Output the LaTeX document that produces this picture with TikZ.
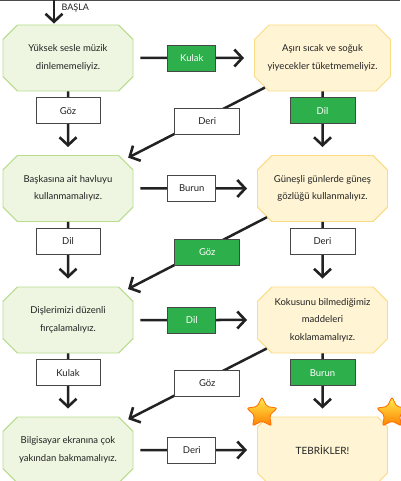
\documentclass[tikz,border=0pt]{standalone}
\usepackage{fontspec}
\setmainfont{Lato}
\usepackage{tikz}
\usetikzlibrary{arrows.meta,positioning,shapes.misc,shapes.geometric,calc}
\definecolor{ink}{HTML}{222222}
\definecolor{leaf}{HTML}{EEF6E1}
\definecolor{leafline}{HTML}{B7DC8C}
\definecolor{cream}{HTML}{FFF4D4}
\definecolor{creamline}{HTML}{FADB86}
\definecolor{tag}{HTML}{2DB04B}
\definecolor{tagline}{HTML}{474747}
\tikzset{
  rule/.style  ={chamfered rectangle,chamfered rectangle xsep=11pt,line width=0.9pt,
                 minimum width=130pt,minimum height=66pt,inner sep=2pt,align=center,
                 text=ink,font=\fontsize{9.5}{17.5}\selectfont},
  safe/.style  ={rule,fill=leaf,draw=leafline},
  warm/.style  ={rule,fill=cream,draw=creamline},
  tagbox/.style={draw=tagline,line width=0.7pt,fill=white,minimum height=26pt,
                 inner sep=2pt,text=ink,font=\fontsize{9.5}{11}\selectfont},
  gotag/.style ={tagbox,fill=tag,text=white},
  flow/.style  ={-{Straight Barb[length=8pt,width=17pt,line width=2.6pt]},
                 line width=2.5pt,draw=ink},
  prize/.style ={star,star points=5,star point ratio=2.0,minimum size=32pt,inner sep=0pt,
                 draw=orange!85!red,line width=0.8pt,rounded corners=2pt,
                 top color=yellow!80!orange!70!white,bottom color=orange}
}

\begin{document}
\begin{tikzpicture}[x=1pt,y=-1pt]
  \useasboundingbox (0,0) rectangle (400,481);
  \draw[line width=1.5pt,gray!60!black] (0,0.5) -- (400,0.5);
  % rule boxes
  \node[safe] (noise)  at (68,58)     {Yüksek sesle müzik\\dinlememeliyiz.};
  \node[warm] (temp)   at (322.5,58)  {Aşırı sıcak ve soğuk\\yiyecekler tüketmemeliyiz.};
  \node[safe] (towel)  at (68,188.5)  {Başkasına ait havluyu\\kullanmamalıyız.};
  \node[warm] (sun)    at (322.5,188.5) {Güneşli günlerde güneş\\gözlüğü kullanmalıyız.};
  \node[safe] (teeth)  at (68,320)    {Dişlerimizi düzenli\\fırçalamalıyız.};
  \node[warm] (smell)  at (322.5,320) {Kokusunu bilmediğimiz\\maddeleri\\koklamamalıyız.};
  \node[safe] (screen) at (68,450)    {Bilgisayar ekranına çok\\yakından bakmamalıyız.};
  \node[warm,font=\fontsize{10}{12}\selectfont] (done) at (322.5,450) {TEBRİKLER!};
  \node[prize] (star1) at (262,413) {};
  \node[prize] (star2) at (392,413) {};
  % start
  \coordinate (start) at (54,0);
  \draw[flow,shorten >=1pt] (start) -- (start |- noise.north);
  \node[anchor=west,font=\fontsize{9}{11}\selectfont,text=ink] (basla) at (58,8) {BAŞLA};
  % connectors
  \draw[flow,shorten <=7pt,shorten >=10pt] (noise) -- (temp);
  \draw[flow,shorten >=8pt] (noise) -- (towel);
  \draw[flow,shorten >=8pt] (temp) -- (sun);
  \draw[flow,shorten >=5pt] (temp) -- (towel);
  \draw[flow,shorten <=7pt,shorten >=10pt] (towel) -- (sun);
  \draw[flow,shorten >=8pt] (towel) -- (teeth);
  \draw[flow,shorten >=8pt] (sun) -- (smell);
  \draw[flow,shorten >=5pt] (sun) -- (teeth);
  \draw[flow,shorten <=7pt,shorten >=10pt] (teeth) -- (smell);
  \draw[flow,shorten >=8pt] (teeth) -- (screen);
  \draw[flow,shorten >=8pt] (smell) -- (done);
  \draw[flow,shorten >=5pt] (smell) -- (screen);
  \draw[flow,shorten <=7pt,shorten >=10pt] (screen) -- (done);
  % sense labels
  \node[gotag,right=34pt of noise,minimum width=48pt] (kulak1) {Kulak};
  \node[tagbox,below=6pt of noise,minimum width=64pt] (goz1) {Göz};
  \node[gotag,below=6pt of temp,minimum width=65pt] (dil1) {Dil};
  \node[tagbox,minimum width=65pt,xshift=12pt,yshift=2pt] (deri1) at ($(temp)!.5!(towel)$) {Deri};
  \node[tagbox,right=34pt of towel,minimum width=48pt] (burun1) {Burun};
  \node[tagbox,below=6pt of towel,minimum width=64pt] (dil2) {Dil};
  \node[tagbox,below=6pt of sun,minimum width=65pt] (deri2) {Deri};
  \node[gotag,minimum width=65pt,xshift=12pt,yshift=2pt] (goz2) at ($(sun)!.5!(teeth)$) {Göz};
  \node[gotag,right=34pt of teeth,minimum width=48pt] (dil3) {Dil};
  \node[tagbox,below=6pt of teeth,minimum width=64pt] (kulak2) {Kulak};
  \node[gotag,below=6pt of smell,minimum width=65pt] (burun2) {Burun};
  \node[tagbox,minimum width=65pt,xshift=12pt,yshift=2pt] (goz3) at ($(smell)!.5!(screen)$) {Göz};
  \node[tagbox,right=34pt of screen,minimum width=48pt] (deri3) {Deri};
\end{tikzpicture}
\end{document}
